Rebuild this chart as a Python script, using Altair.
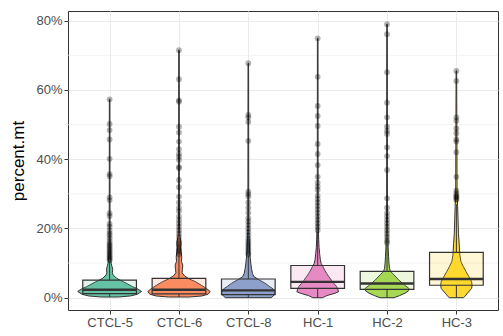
import altair as alt
import pandas as pd

groups = ["CTCL-5", "CTCL-6", "CTCL-8", "HC-1", "HC-2", "HC-3"]
colors = ["#66C2A5", "#FC8D62", "#8DA0CB", "#E78AC3", "#A6D854", "#FFD92F"]

# box statistics (percent)
q1 = [1.2, 1.1, 0.9, 2.7, 2.4, 3.6]
median = [2.3, 2.3, 2.1, 4.6, 4.1, 5.4]
q3 = [5.1, 5.6, 5.4, 9.3, 7.6, 13.1]
whisk_lo = [0.2, 0.2, 0.0, 0.0, 0.0, 0.0]
whisk_hi = [10.5, 12.2, 12.2, 19.0, 15.3, 27.0]

# violin outlines: y level (percent) and half width (fraction of category step)
violin_y = {
    "CTCL-5": [0.2, 0.5, 1.0, 1.8, 2.6, 3.2, 4.6, 5.6, 6.6, 7.2, 8.2, 9.0, 10.0, 12, 15, 20, 30, 57.3],
    "CTCL-6": [0.2, 0.5, 1.0, 1.8, 2.6, 3.5, 4.6, 5.5, 6.3, 7.2, 8.2, 9.4, 10.5, 11.8, 13.3, 14.5, 15.7, 18, 22, 30, 71.5],
    "CTCL-8": [0.0, 0.5, 1.0, 1.7, 2.5, 3.3, 4.2, 5.2, 6.1, 7.0, 8.5, 10, 12, 14, 17, 20, 25, 67.7],
    "HC-1": [0.0, 0.6, 1.3, 1.7, 2.5, 3.3, 4.2, 5.0, 6.1, 7.0, 8.0, 9.0, 9.9, 11, 12.8, 14.5, 16.7, 20, 25, 74.9],
    "HC-2": [0.0, 0.6, 1.3, 2.0, 2.6, 3.7, 5.1, 6.6, 7.6, 8.5, 10, 12, 15, 20, 25, 79.0],
    "HC-3": [0.0, 0.3, 1.3, 2.7, 3.6, 4.6, 6.1, 7.5, 9.0, 10.4, 12.3, 15.7, 18.6, 22.4, 26.3, 30, 65.5],
}
violin_hw = {
    "CTCL-5": [0.12, 0.30, 0.40, 0.46, 0.40, 0.33, 0.20, 0.10, 0.05, 0.04, 0.045, 0.035, 0.022, 0.012, 0.008, 0.006, 0.005, 0.004],
    "CTCL-6": [0.15, 0.33, 0.42, 0.45, 0.40, 0.33, 0.24, 0.14, 0.08, 0.045, 0.05, 0.055, 0.035, 0.04, 0.03, 0.022, 0.03, 0.012, 0.007, 0.005, 0.004],
    "CTCL-8": [0.33, 0.36, 0.38, 0.385, 0.36, 0.30, 0.24, 0.15, 0.08, 0.06, 0.045, 0.035, 0.025, 0.018, 0.012, 0.008, 0.006, 0.004],
    "HC-1": [0.07, 0.13, 0.25, 0.30, 0.29, 0.27, 0.23, 0.20, 0.16, 0.13, 0.10, 0.075, 0.05, 0.038, 0.028, 0.02, 0.015, 0.01, 0.006, 0.004],
    "HC-2": [0.10, 0.18, 0.26, 0.31, 0.32, 0.25, 0.17, 0.10, 0.05, 0.035, 0.028, 0.022, 0.015, 0.01, 0.006, 0.004],
    "HC-3": [0.10, 0.12, 0.16, 0.22, 0.226, 0.22, 0.18, 0.14, 0.10, 0.066, 0.05, 0.04, 0.03, 0.024, 0.018, 0.01, 0.004],
}

# outlier points (percent)
outliers = {
    "CTCL-5": [10.8, 11.2, 11.6, 12.0, 12.4, 12.9, 13.3, 13.8, 14.3, 14.8, 15.2, 15.7, 16.3, 17.2, 18.0, 18.6, 19.4, 20.5, 21.3, 23.6, 24.4, 28.2, 29.0, 35.1, 35.7, 40.1, 45.7, 48.4, 50.2, 57.3],
    "CTCL-6": [12.5, 13.0, 13.5, 14.0, 14.6, 15.2, 15.8, 16.5, 17.5, 18.5, 19.5, 20.5, 21.5, 22.5, 23.5, 25.0, 26.0, 27.5, 29.2, 31.9, 34.0, 37.4, 37.8, 39.8, 40.7, 41.5, 42.9, 45.1, 47.7, 49.4, 56.6, 57.0, 63.1, 71.5],
    "CTCL-8": [12.5, 13.0, 13.7, 14.3, 15.0, 15.6, 16.3, 17.0, 18.0, 19.0, 20.0, 21.0, 22.0, 23.0, 24.5, 26.0, 27.5, 29.2, 29.9, 30.6, 45.3, 50.8, 52.1, 52.8, 67.7],
    "HC-1": [19.5, 20.5, 21.5, 22.5, 23.5, 24.5, 25.5, 26.5, 27.5, 28.5, 29.5, 31.1, 32.1, 33.2, 34.9, 38.3, 41.5, 44.4, 49.6, 52.5, 55.4, 63.8, 74.9],
    "HC-2": [15.8, 16.5, 17.5, 18.5, 19.5, 20.5, 21.5, 22.5, 23.5, 24.5, 26.0, 28.7, 36.9, 40.9, 43.4, 47.3, 48.2, 49.4, 52.1, 56.3, 65.1, 76.1, 79.0],
    "HC-3": [28.2, 28.5, 29.0, 29.2, 29.6, 30.2, 30.9, 34.9, 42.0, 45.1, 45.7, 47.5, 48.9, 51.1, 52.1, 62.6, 65.5],
}

y_ticks = [0, 0.2, 0.4, 0.6, 0.8]
y_minor = [0.1, 0.3, 0.5, 0.7]

BOX_HALF = 0.387

# ---- tables ----
vrows = []
for i, g in enumerate(groups):
    pos = i + 1
    for yv, hw in zip(violin_y[g], violin_hw[g]):
        vrows.append({"group": g, "y": yv / 100, "xl": pos - hw, "xr": pos + hw})
vdf = pd.DataFrame(vrows)

bdf = pd.DataFrame({
    "group": groups,
    "pos": list(range(1, 7)),
    "q1": [v / 100 for v in q1],
    "med": [v / 100 for v in median],
    "q3": [v / 100 for v in q3],
    "lo": [v / 100 for v in whisk_lo],
    "hi": [v / 100 for v in whisk_hi],
})
bdf["xl"] = bdf["pos"] - BOX_HALF
bdf["xr"] = bdf["pos"] + BOX_HALF

prows = []
for i, g in enumerate(groups):
    for v in outliers[g]:
        prows.append({"group": g, "pos": i + 1, "y": v / 100})
pdf = pd.DataFrame(prows)

mdf = pd.DataFrame({"y": y_minor})

xscale = alt.Scale(domain=[0.4, 6.6], nice=False, zero=False)
yscale = alt.Scale(domain=[-0.0355, 0.828], nice=False, zero=False)
cscale = alt.Scale(domain=groups, range=colors)

label_expr = "[" + ",".join("'%s'" % g for g in groups) + "][round(datum.value) - 1]"

x_axis = alt.Axis(values=[1, 2, 3, 4, 5, 6], labelExpr=label_expr, title=None,
                  grid=True, gridColor="#EBEBEB", gridWidth=1, domain=False,
                  tickColor="#333333", tickSize=4, tickWidth=1,
                  labelColor="#4D4D4D", labelFontSize=13, labelPadding=2,
                  labelFont="Liberation Sans")
y_axis = alt.Axis(values=y_ticks, format=".0%", title="percent.mt",
                  grid=True, gridColor="#EBEBEB", gridWidth=1, domain=False,
                  tickColor="#333333", tickSize=4, tickWidth=1,
                  labelColor="#4D4D4D", labelFontSize=13, labelPadding=2,
                  labelFont="Liberation Sans",
                  titleFont="Liberation Sans", titleFontSize=17, titleFontWeight="normal",
                  titleColor="#000000", titlePadding=8)

minor = alt.Chart(mdf).mark_rule(color="#EBEBEB", strokeWidth=0.6).encode(
    y=alt.Y("y:Q", scale=yscale, axis=y_axis),
    x=alt.value(0), x2=alt.value(430),
)

violin = alt.Chart(vdf).mark_area(orient="horizontal", stroke="#333333", strokeWidth=1.0,
                                   opacity=1).encode(
    y=alt.Y("y:Q", scale=yscale),
    x=alt.X("xl:Q", scale=xscale, axis=x_axis),
    x2="xr:Q",
    color=alt.Color("group:N", scale=cscale, legend=None),
)

whisk_up = alt.Chart(bdf).mark_rule(color="#333333", strokeWidth=1).encode(
    x=alt.X("pos:Q", scale=xscale), y=alt.Y("q3:Q", scale=yscale), y2="hi:Q")
whisk_dn = alt.Chart(bdf).mark_rule(color="#333333", strokeWidth=1).encode(
    x=alt.X("pos:Q", scale=xscale), y=alt.Y("lo:Q", scale=yscale), y2="q1:Q")

box = alt.Chart(bdf).mark_rect(fillOpacity=0.2, stroke="#333333", strokeWidth=1.2).encode(
    x=alt.X("xl:Q", scale=xscale), x2="xr:Q",
    y=alt.Y("q1:Q", scale=yscale), y2="q3:Q",
    fill=alt.Fill("group:N", scale=cscale, legend=None),
)

med = alt.Chart(bdf).mark_rule(color="#333333", strokeWidth=2.3).encode(
    x=alt.X("xl:Q", scale=xscale), x2="xr:Q",
    y=alt.Y("med:Q", scale=yscale),
)

points = alt.Chart(pdf).mark_circle(size=34, color="#000000", opacity=0.3).encode(
    x=alt.X("pos:Q", scale=xscale), y=alt.Y("y:Q", scale=yscale))

chart = alt.layer(minor, violin, whisk_up, whisk_dn, box, med, points).properties(
    width=430, height=299,
    autosize=alt.AutoSizeParams(type="none"),
    padding={"left": 68, "top": 11, "right": 5, "bottom": 26},
    background="#FFFFFF",
).configure_view(stroke="#333333", strokeWidth=1)

chart.save("out.html", embed_options={"renderer": "svg", "actions": False})
